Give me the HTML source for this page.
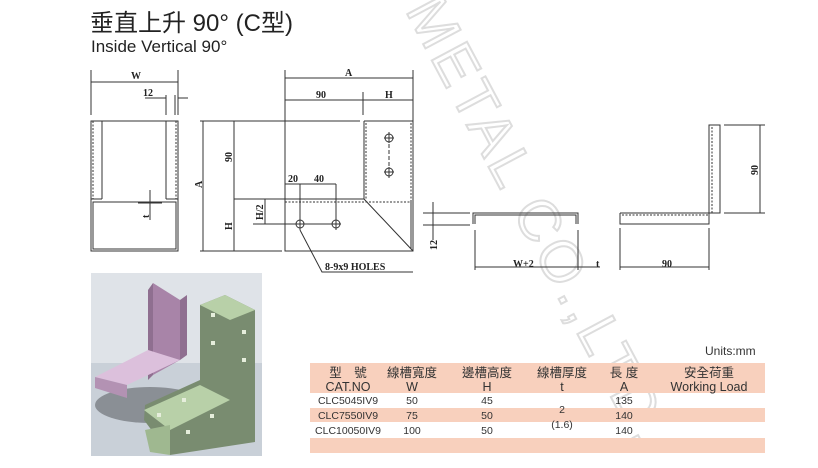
<!DOCTYPE html>
<html><head><meta charset="utf-8"><style>
body{margin:0;background:#fff;width:818px;height:468px;overflow:hidden;font-family:"Liberation Sans","Noto Sans CJK TC",sans-serif}
</style></head><body>
<svg width="818" height="468" viewBox="0 0 818 468" xmlns="http://www.w3.org/2000/svg" style="position:absolute;left:0;top:0">
<!-- watermark -->
<text transform="translate(405,10) rotate(62)" font-size="58" fill="#fff" stroke="#ddd" stroke-width="2" font-family="Liberation Sans,sans-serif" letter-spacing="4">METAL CO.,LTD.</text>
<text x="90" y="31" font-size="24" fill="#222" font-family="Liberation Sans,Noto Sans CJK TC,sans-serif">垂直上升 90° (C型)</text>
<text x="91" y="52" font-size="17" fill="#222" font-family="Liberation Sans,sans-serif">Inside Vertical 90°</text>
<g stroke="#333" stroke-width="1" fill="none">
<rect x="91" y="121" width="87" height="130"/>
<path d="M102 121V199M166 121V199M91 199H102M166 199H178M93 202H176V249H93Z"/>
<path d="M176 121V199" stroke-dasharray="2,1.5"/>
<path d="M93 121V199" stroke-dasharray="2,1.5"/>
<path d="M91 115V70M178 115V70M91 82H178M166 115V95M175 115V95M145 98H166M178 98H188"/>
<path d="M150 190V220M138 203H162"/>
<path d="M200 121H360M364 121H413V251H285V199H364V121M285 121V199M364 199L413 251"/>
<path d="M285 202H411V249M366 123V199" stroke-dasharray="2,1.5"/>
<path d="M411 123V249" stroke-dasharray="2,1.5"/>
<path d="M200 251H282M203 121V251M234 121V251M234 199H285M265 199V224M253 224H336M266 199H285"/>
<path d="M285 70V121M413 70V121M363 92V115M285 78H413M285 100H413"/>
<path d="M300 184V230M336 184V230M285 184H336"/>
<path d="M389 132V178" stroke-dasharray="4,2"/>
<path d="M300 230L322 272H413"/>
<path d="M473 224V213H578V224M475 224V215H576V224"/>
<path d="M433 202V240M423 213H470M423 225H470M475 230V270M578 230V270M475 267H598M581 267H600"/>
<path d="M620 213H709V125H720V213H709M620 213V224H709V213"/>
<path d="M622 215H709M712 127V213" stroke-dasharray="2,1.5"/>
<path d="M724 125H765M724 213H765M760 125V213M620 228V270M709 228V270M620 267H709"/>
</g>
<g fill="none" stroke="#333">
<circle cx="300" cy="224" r="4"/><circle cx="336" cy="224" r="4"/><circle cx="389" cy="138" r="4"/><circle cx="389" cy="172" r="4"/>
<path d="M295 224H305M300 219V229M331 224H341M336 219V229M384 138H394M389 133V143M384 172H394M389 167V177"/>
</g>
<g font-family="Liberation Serif,serif" font-weight="bold" font-size="10" fill="#222">
<text x="131" y="79">W</text><text x="143" y="96">12</text>
<text x="345" y="76">A</text><text x="316" y="98">90</text><text x="385" y="98">H</text>
<text x="288" y="182">20</text><text x="314" y="182">40</text>
<text x="325" y="270">8-9x9 HOLES</text>
<text x="513" y="267">W+2</text><text x="596" y="267">t</text><text x="662" y="267">90</text>
<text transform="translate(232,162) rotate(-90)">90</text>
<text transform="translate(232,230) rotate(-90)">H</text>
<text transform="translate(263,220) rotate(-90)">H/2</text>
<text transform="translate(202,188) rotate(-90)">A</text>
<text transform="translate(149,218) rotate(-90)">t</text>
<text transform="translate(437,250) rotate(-90)">12</text>
<text transform="translate(758,175) rotate(-90)">90</text>
</g>
<rect x="91" y="273" width="171" height="183" fill="#c9d0d8"/>
<rect x="91" y="273" width="171" height="90" fill="#dfe3e8"/>
<ellipse cx="150" cy="405" rx="55" ry="18" fill="#8a8f95"/>
<polygon points="148,290 153,283 153,375 148,380" fill="#8f6f90"/>
<polygon points="153,283 180,300 180,360 153,375" fill="#a884a8"/>
<polygon points="180,300 187,295 187,355 180,360" fill="#8f6f90"/>
<polygon points="95,377 148,350 180,360 127,385" fill="#dcc0dc"/>
<polygon points="95,377 127,385 127,398 95,388" fill="#b392b3"/>
<polygon points="200,305 225,295 255,310 255,442 170,455 144,420 145,405 200,380" fill="#798c70"/>
<polygon points="200,305 225,295 255,310 230,320" fill="#b8d0a8"/>
<polygon points="144,410 200,385 230,400 170,430" fill="#b8d0a8"/>
<polygon points="145,430 170,425 170,455 150,452" fill="#9fb890"/>
<g fill="#e6eedc"><rect x="211" y="313" width="4" height="4"/><rect x="211" y="341" width="4" height="4"/><rect x="242" y="330" width="4" height="4"/><rect x="242" y="358" width="4" height="4"/><rect x="182" y="398" width="4" height="4"/><rect x="157" y="413" width="4" height="4"/><rect x="210" y="414" width="4" height="4"/><rect x="186" y="430" width="4" height="4"/></g>
<text x="705" y="355" font-size="12" fill="#333" font-family="Liberation Sans,sans-serif">Units:mm</text>
<rect x="310" y="363" width="455" height="30" fill="#f8d0bd"/>
<rect x="310" y="408" width="455" height="14" fill="#f8d0bd"/>
<rect x="310" y="438" width="455" height="15" fill="#f8d0bd"/>
<g font-size="12.5" fill="#333" text-anchor="middle" font-family="Liberation Sans,Noto Sans CJK TC,sans-serif">
<text x="348" y="377">型　號</text><text x="412" y="377">線槽寬度</text><text x="487" y="377">邊槽高度</text><text x="562" y="377">線槽厚度</text><text x="624" y="377">長 度</text><text x="709" y="377">安全荷重</text>
<text x="348" y="391">CAT.NO</text><text x="412" y="391">W</text><text x="487" y="391">H</text><text x="562" y="391">t</text><text x="624" y="391">A</text><text x="709" y="391">Working Load</text>
<text x="348" y="404" font-size="10.5">CLC5045IV9</text><text x="412" y="404" font-size="10.5">50</text><text x="487" y="404" font-size="10.5">45</text><text x="624" y="404" font-size="10.5">135</text>
<text x="348" y="419" font-size="10.5">CLC7550IV9</text><text x="412" y="419" font-size="10.5">75</text><text x="487" y="419" font-size="10.5">50</text><text x="624" y="419" font-size="10.5">140</text><text x="562" y="413" font-size="10.5">2</text>
<text x="348" y="434" font-size="10.5">CLC10050IV9</text><text x="412" y="434" font-size="10.5">100</text><text x="487" y="434" font-size="10.5">50</text><text x="624" y="434" font-size="10.5">140</text><text x="562" y="428" font-size="10.5">(1.6)</text>
</g>
</svg>
</body></html>
